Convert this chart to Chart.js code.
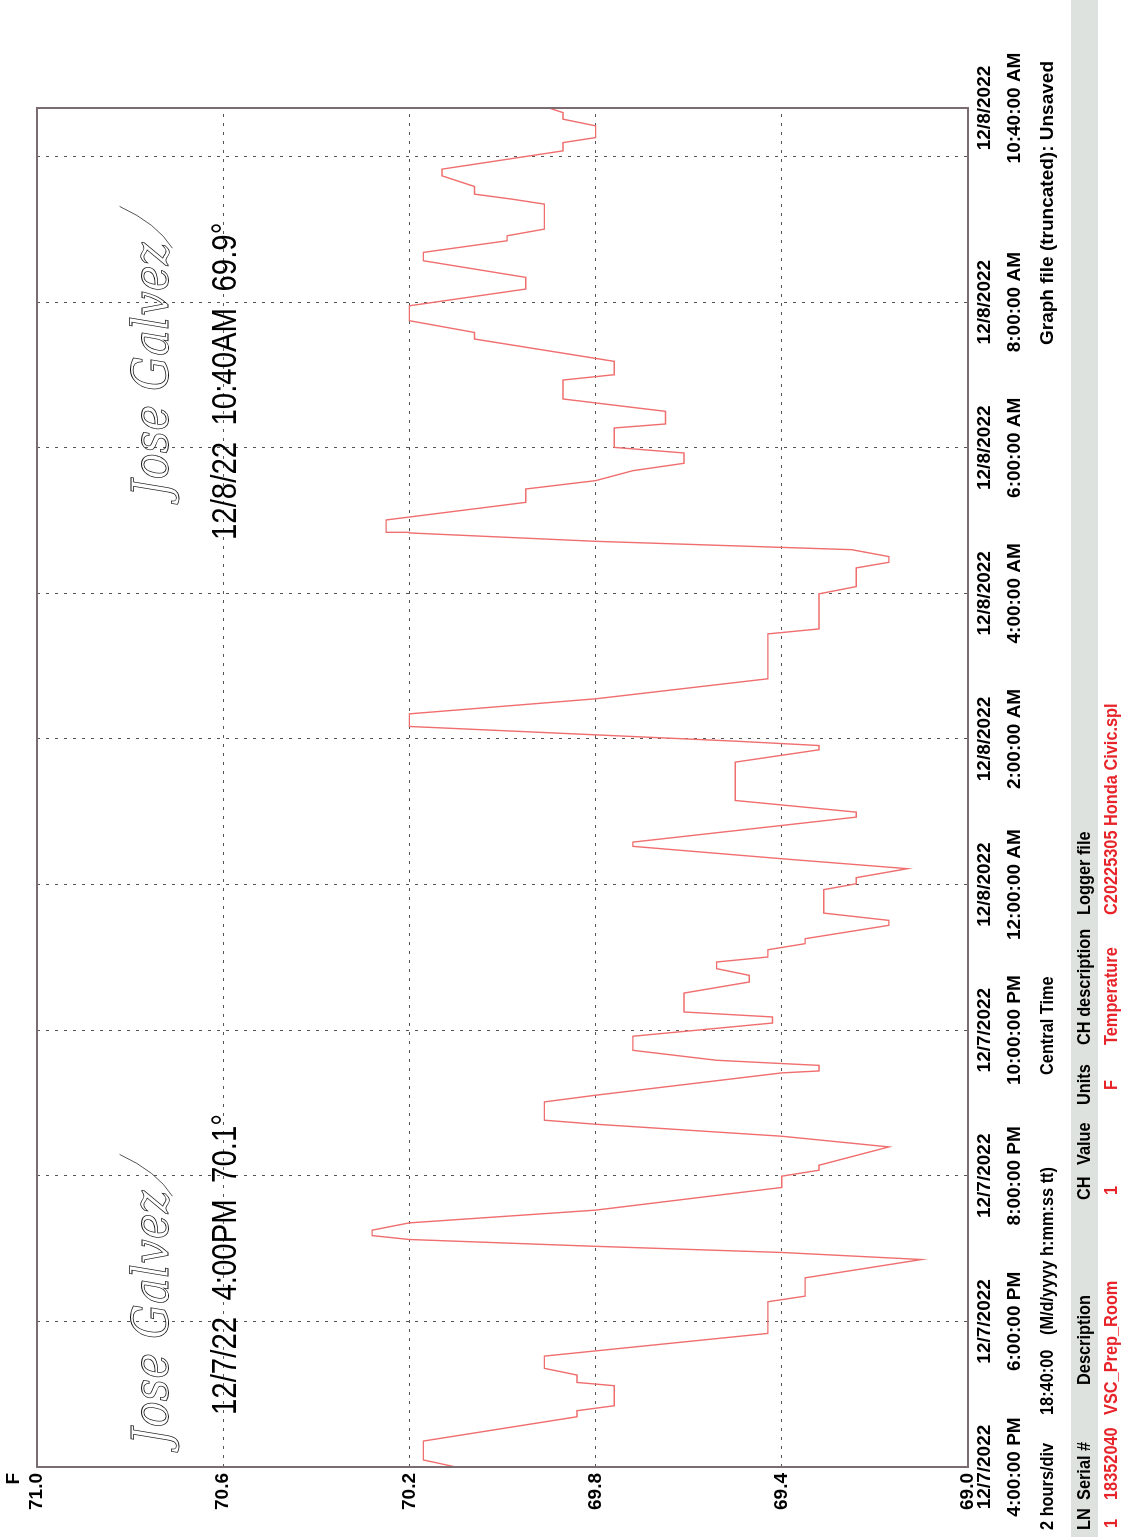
<!DOCTYPE html>
<html>
<head>
<meta charset="utf-8">
<script src="https://cdn.jsdelivr.net/npm/chart.js@4.4.1/dist/chart.umd.min.js"></script>
<style>
  html, body { margin: 0; padding: 0; background: #fff; overflow: hidden; }
  /* the logger printout is laid out landscape and turned a quarter turn */
  #sheet {
    position: absolute; left: 0; top: 0;
    width: 1537px; height: 1128px;
    transform-origin: 0 0;
    transform: translate(0, 1537px) rotate(-90deg);
  }
</style>
</head>
<body>
<div id="sheet"><canvas id="graph" width="1537" height="1128"></canvas></div>
<script>
// minutes since 12/7/2022 4:00 PM
const minutes = [
  0, 5.8, 21.4, 41.4, 46.4, 50.5, 67.0, 69.7, 75.8, 81.3, 91.4, 110.1, 136.2, 140.8, 155.9,
  171.0, 176.8, 182.0, 187.5, 190.7, 195.2, 201.2, 211.7, 230.4, 239.7, 244.6, 248.7,
  263.8, 272.6, 282.5, 285.8, 300.9, 306.4, 324.8, 326.4, 331.0, 332.5, 335.2, 343.4,
  355.0, 365.9, 370.9, 375.0, 390.6, 399.7, 405.2, 410.7, 416.2, 420.3, 426.3, 431.3,
  435.4, 446.4, 450.5, 456.5, 475.8, 480.7, 485.7, 493.1, 501.3, 511.5, 515.0, 535.6,
  539.7, 549.3, 580.9, 591.1, 594.6, 598.2, 603.4, 610.3, 620.7, 633.1, 649.6, 686.6,
  690.7, 719.6, 725.6, 741.0, 745.6, 750.3, 756.0, 762.9, 769.8, 770.3, 780.5, 795.0,
  806.0, 812.9, 821.1, 827.2, 835.7, 840.3, 856.3, 859.6, 870.0, 880.2, 895.8, 900.2,
  911.2, 929.6, 935.0, 944.7, 957.0, 970.8, 980.4, 994.1, 1001.0, 1010.6, 1014.7,
  1020.2, 1040.8, 1044.9, 1049.0, 1055.3, 1064.1, 1069.6, 1084.7, 1091.5, 1095.6,
  1105.3, 1110.8, 1116.2, 1120
];
// Temperature, F
const temps = [
  70.10, 70.17, 70.17, 69.84, 69.84, 69.76, 69.76, 69.84, 69.84, 69.91, 69.91, 69.43, 69.43, 69.35, 69.35,
  69.10, 69.40, 69.81, 70.20, 70.28, 70.28, 70.20, 69.80, 69.40, 69.40, 69.32, 69.32,
  69.17, 69.40, 69.80, 69.91, 69.91, 69.80, 69.40, 69.32, 69.32, 69.40, 69.54, 69.72,
  69.72, 69.42, 69.42, 69.61, 69.61, 69.47, 69.47, 69.54, 69.54, 69.43, 69.43, 69.35,
  69.35, 69.17, 69.17, 69.31, 69.31, 69.24, 69.24, 69.13, 69.40, 69.72, 69.72, 69.24,
  69.24, 69.50, 69.50, 69.32, 69.32, 69.50, 69.80, 70.20, 70.20, 69.80, 69.43, 69.43,
  69.32, 69.32, 69.24, 69.24, 69.17, 69.17, 69.25, 69.80, 70.20, 70.25, 70.25, 69.95,
  69.95, 69.80, 69.72, 69.61, 69.61, 69.76, 69.76, 69.65, 69.65, 69.87, 69.87, 69.76,
  69.76, 70.06, 70.06, 70.20, 70.20, 69.95, 69.95, 70.17, 70.17, 69.99, 69.99,
  69.91, 69.91, 69.98, 70.06, 70.06, 70.13, 70.13, 69.87, 69.87, 69.80,
  69.80, 69.87, 69.87, 69.90
];

// time axis: a division every 2 hours, plus the end of the record
const tickMinutes = [0, 120, 240, 360, 480, 600, 720, 840, 960, 1080, 1120];
const tickDates = ['12/7/2022', '12/7/2022', '12/7/2022', '12/7/2022', '12/8/2022', '12/8/2022',
  '12/8/2022', '12/8/2022', '12/8/2022', '', '12/8/2022'];
const tickTimes = ['4:00:00 PM', '6:00:00 PM', '8:00:00 PM', '10:00:00 PM', '12:00:00 AM', '2:00:00 AM',
  '4:00:00 AM', '6:00:00 AM', '8:00:00 AM', '', '10:40:00 AM'];

const startStamp = '12/7/22  4:00PM';
const endStamp = '12/8/22  10:40AM';
const signedBy = 'Jose Galvez';

const SANS = "'Liberation Sans', Arial, sans-serif";
Chart.defaults.font.family = SANS;

const pts = minutes.map((m, i) => ({ x: m, y: temps[i] }));

// condensed text: the printout font is narrower than Arial
function narrow(ctx, s, x, y, sx) {
  ctx.save();
  ctx.translate(x, y);
  ctx.scale(sx, 1);
  ctx.fillText(s, 0, 0);
  ctx.restore();
}

// thin pen signature with a trailing flourish
function signature(ctx, x, y) {
  ctx.save();
  ctx.strokeStyle = '#111';
  ctx.lineWidth = 0.7;
  ctx.font = 'italic 46px "DejaVu Serif"';
  ctx.translate(x, y);
  ctx.scale(0.95, 1.1);
  ctx.strokeText(signedBy, 0, 0);
  const w = ctx.measureText(signedBy).width;
  ctx.beginPath();
  ctx.moveTo(w - 6, 4);
  ctx.quadraticCurveTo(w + 20, -10, w + 38, -44);
  ctx.stroke();
  ctx.restore();
}

// frame, unit label, footer table and the signed readings
const printout = {
  id: 'printout',
  afterDraw(chart) {
    const ctx = chart.ctx;
    const a = chart.chartArea;
    ctx.save();

    ctx.strokeStyle = '#7b6c71';
    ctx.lineWidth = 2;
    ctx.strokeRect(a.left, a.top, a.right - a.left, a.bottom - a.top);

    ctx.fillStyle = '#000';
    ctx.font = 'bold 19px ' + SANS;
    ctx.textAlign = 'right';
    ctx.textBaseline = 'middle';
    ctx.fillText('F', a.left - 6, 14);

    // footer
    ctx.textAlign = 'left';
    const k = 0.86;
    narrow(ctx, '2 hours/div', 7, 1048, k);
    narrow(ctx, '18:40:00', 122, 1048, k);
    narrow(ctx, '(M/d/yyyy h:mm:ss tt)', 202, 1048, k);
    narrow(ctx, 'Central Time', 462, 1048, k);
    narrow(ctx, 'Graph file (truncated): Unsaved', 1192, 1048, 1);

    ctx.fillStyle = '#dde2df';
    ctx.fillRect(0, 1071, 1537, 27);
    ctx.fillStyle = '#000';
    const head = [['LN', 7], ['Serial #', 37], ['Description', 152], ['CH', 337], ['Value', 372],
      ['Units', 432], ['CH description', 492], ['Logger file', 622]];
    head.forEach(([t, u]) => narrow(ctx, t, u, 1085, k));
    ctx.fillStyle = '#e8242b';
    const row = [['1', 9], ['18352040', 37], ['VSC_Prep_Room', 122], ['1', 342], ['F', 447],
      ['Temperature', 492], ['C20225305 Honda Civic.spl', 622]];
    row.forEach(([t, u]) => narrow(ctx, t, u, 1112, k));

    // hand-written sign-off for the first and last readings
    ctx.fillStyle = '#000';
    ctx.font = '35px ' + SANS;
    ctx.textBaseline = 'alphabetic';
    narrow(ctx, startStamp + '  ' + temps[0].toFixed(1) + '°', 122, 236, 0.84);
    narrow(ctx, endStamp + '  ' + temps[temps.length - 1].toFixed(1) + '°', 997, 236, 0.84);

    signature(ctx, 92, 168);
    signature(ctx, 1040, 168);
    ctx.restore();
  }
};

new Chart(document.getElementById('graph'), {
  type: 'line',
  data: {
    datasets: [{
      label: 'VSC_Prep_Room',
      data: pts,
      borderColor: '#f06e6e',
      borderWidth: 1.4,
      pointRadius: 0,
      tension: 0
    }]
  },
  options: {
    responsive: false,
    animation: false,
    devicePixelRatio: 1,
    layout: { padding: { top: 37, right: 108, bottom: 100, left: 0 } },
    plugins: { legend: { display: false }, tooltip: { enabled: false } },
    scales: {
      x: {
        type: 'linear',
        min: 0,
        max: 1120,
        afterBuildTicks: s => { s.ticks = tickMinutes.map(v => ({ value: v })); },
        afterFit: s => { s.height = 60; },
        border: { display: false, dash: [3, 6] },
        grid: { color: '#555', lineWidth: 1, drawTicks: false },
        ticks: {
          autoSkip: false,
          maxRotation: 0,
          padding: 2,
          color: '#000',
          font: { size: 19, weight: 'bold', lineHeight: 1.58 },
          callback: (v, i) => tickDates[i] ? [tickDates[i], tickTimes[i]] : ''
        }
      },
      y: {
        min: 69,
        max: 71,
        afterFit: s => { s.width = 70; },
        border: { display: false, dash: [3, 6] },
        grid: { color: '#555', lineWidth: 1, drawTicks: false },
        ticks: {
          stepSize: 0.4,
          padding: 6,
          color: '#000',
          font: { size: 19, weight: 'bold' },
          callback: v => v.toFixed(1)
        }
      }
    }
  },
  plugins: [printout]
});
</script>
</body>
</html>
